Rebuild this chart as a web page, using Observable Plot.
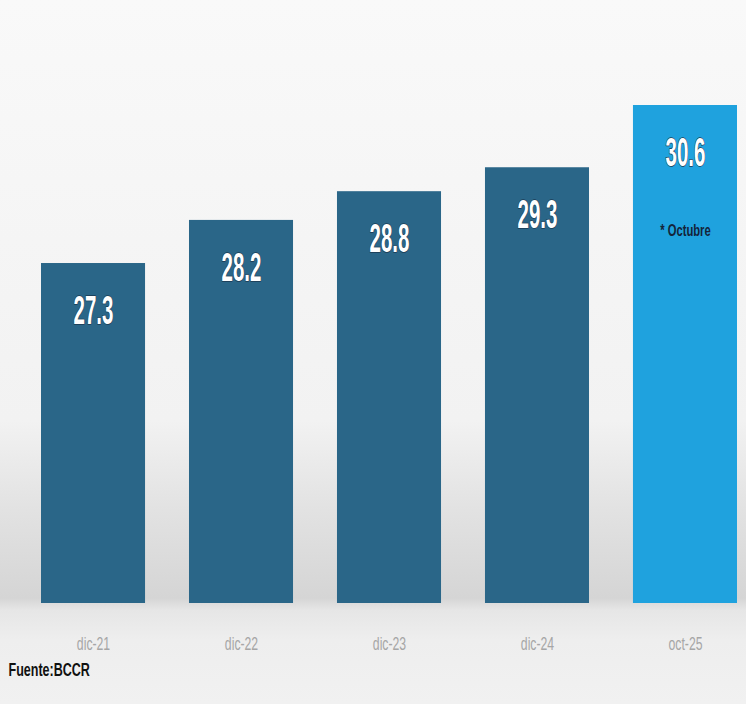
<!DOCTYPE html>
<html>
<head>
<meta charset="utf-8">
<script src="https://cdn.jsdelivr.net/npm/d3@7"></script>
<script src="https://cdn.jsdelivr.net/npm/@observablehq/plot@0.6"></script>
<style>
  html, body { margin: 0; padding: 0; background: #f3f3f3; }
  #chart { width: 746px; height: 704px; }
</style>
</head>
<body>
<div id="chart"></div>
<script>
const periods = ["dic-21", "dic-22", "dic-23", "dic-24", "oct-25"];
const values = [27.3, 28.2, 28.8, 29.3, 30.6];
const notes = ["", "", "", "", "* Octubre"];
const source = "Fuente:BCCR";

const data = periods.map((p, i) => ({period: p, value: values[i], note: notes[i], last: i === periods.length - 1}));
const font = "'Liberation Sans', Arial, sans-serif";

const chart = Plot.plot({
  width: 746,
  height: 704,
  marginLeft: 41,
  marginRight: 9,
  marginTop: 105,
  marginBottom: 101,
  style: {
    background: "linear-gradient(to bottom, #f9f9f9 0px, #f2f2f2 420px, #e2e2e2 510px, #d5d5d5 598px, #e6e6e6 610px, #eeeeee 640px, #f1f1f1 704px)",
    fontFamily: font
  },
  x: {domain: periods, paddingInner: 0.297, paddingOuter: 0, round: false, label: null},
  y: {domain: [20.2, 30.6], axis: null},
  marks: [
    Plot.barY(data, {x: "period", y1: 20.2, y2: "value", fill: d => d.last ? "#1fa2de" : "#2a6688"}),
    Plot.axisX({tickSize: 0, tickPadding: 34, fontSize: 18, fill: "#a6a6a6", label: null, fontFamily: font}),
    Plot.text(data, {x: "period", y: "value", text: d => d.value.toFixed(1), dy: 47, fill: "white", stroke: "#1b3a52", strokeWidth: 1.5, paintOrder: "stroke", fontSize: 41, fontWeight: "bold", fontFamily: font}),
    Plot.text(data.filter(d => d.note), {x: "period", y: "value", text: "note", dy: 125, fill: "#14243a", fontSize: 17, fontWeight: "bold", fontFamily: font}),
    Plot.text([source], {frameAnchor: "bottom-left", dx: -33, dy: 72, textAnchor: "start", fill: "#111", fontSize: 19, fontWeight: "bold", fontFamily: font})
  ]
});

document.getElementById("chart").appendChild(chart);

// narrow the lettering to mimic the condensed typeface of the original
const squeeze = {41: 0.5, 18: 0.68, 17: 0.66, 19: 0.66};
d3.select(chart).selectAll("text").each(function() {
  const holder = this.closest("[font-size]");
  const fs = holder ? parseFloat(holder.getAttribute("font-size")) : NaN;
  const s = squeeze[fs];
  if (!s) return;
  const parent = this.parentNode;
  const r = this.getBoundingClientRect();
  const anchorStart = (this.closest("[text-anchor]")?.getAttribute("text-anchor")) === "start";
  const pt = chart.createSVGPoint();
  pt.x = anchorStart ? r.left : r.left + r.width / 2;
  pt.y = r.top;
  const p = pt.matrixTransform(parent.getScreenCTM().inverse());
  const g = document.createElementNS("http://www.w3.org/2000/svg", "g");
  g.setAttribute("transform", `translate(${p.x},0) scale(${s},1) translate(${-p.x},0)`);
  parent.insertBefore(g, this);
  g.appendChild(this);
});
</script>
</body>
</html>
